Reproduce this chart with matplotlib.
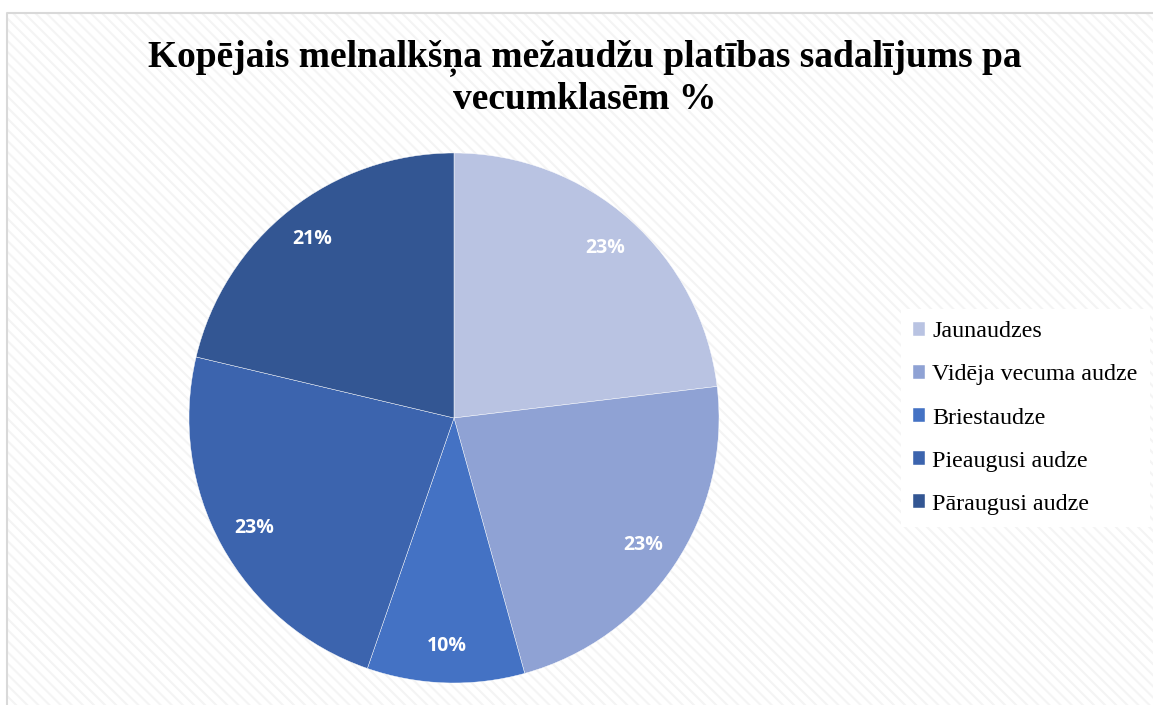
import matplotlib.pyplot as plt
from matplotlib.lines import Line2D
from matplotlib.patches import Rectangle

# data
categories = ['Jaunaudzes', 'Vidēja vecuma audze', 'Briestaudze',
              'Pieaugusi audze', 'Pāraugusi audze']
shares = [23.1, 22.6, 9.6, 23.4, 21.3]
colors = ['#B9C3E2', '#8FA2D4', '#4472C4', '#3C64AE', '#335693']
title = 'Kopējais melnalkšņa mežaudžu platības sadalījums pa\nvecumklasēm %'

W, H = 1153, 705
fig = plt.figure(figsize=(W / 100, H / 100), dpi=100)

# faint hatched chart-area background, grey border on left and top only
plt.rcParams['hatch.linewidth'] = 1.5
bg = Rectangle((7 / W, 0), 1, 1 - 13 / H, transform=fig.transFigure,
               facecolor='white', edgecolor='#F4F4F4', linewidth=0,
               hatch='\\\\\\', zorder=-10)
fig.patches.append(bg)
fig.lines.append(Line2D([7 / W, 7 / W, 1], [0, 1 - 13 / H, 1 - 13 / H],
                        transform=fig.transFigure, color='#D9D9D9', lw=1.5))

fig.text(585 / W, 1 - 78 / H, title, ha='center', va='center',
         fontsize=27, fontweight='bold', family='Liberation Serif',
         linespacing=1.25)

ax = fig.add_axes([0.1639, 0.0312, 0.4597, 0.7518])
wedges, texts, autotexts = ax.pie(
    shares, colors=colors, startangle=90, counterclock=False,
    autopct='%1.0f%%', pctdistance=0.86, radius=1,
    wedgeprops=dict(edgecolor='white', linewidth=0.3),
    textprops=dict(color='white', fontsize=14, fontweight='bold',
                   family='Open Sans'))
ax.set_xlim(-1, 1)
ax.set_ylim(-1, 1)
ax.set_aspect('equal')
ax.axis('off')

leg = fig.legend(wedges, categories, loc='center left',
                 bbox_to_anchor=(0.771, 1 - 418 / H),
                 prop=dict(family='Liberation Serif', size=17.3),
                 frameon=True, facecolor='white', edgecolor='none',
                 fancybox=False, framealpha=1, labelspacing=0.92,
                 handlelength=0.5, handleheight=0.5, handletextpad=0.3,
                 borderpad=0.5)

fig.savefig('out.png', dpi=100)
